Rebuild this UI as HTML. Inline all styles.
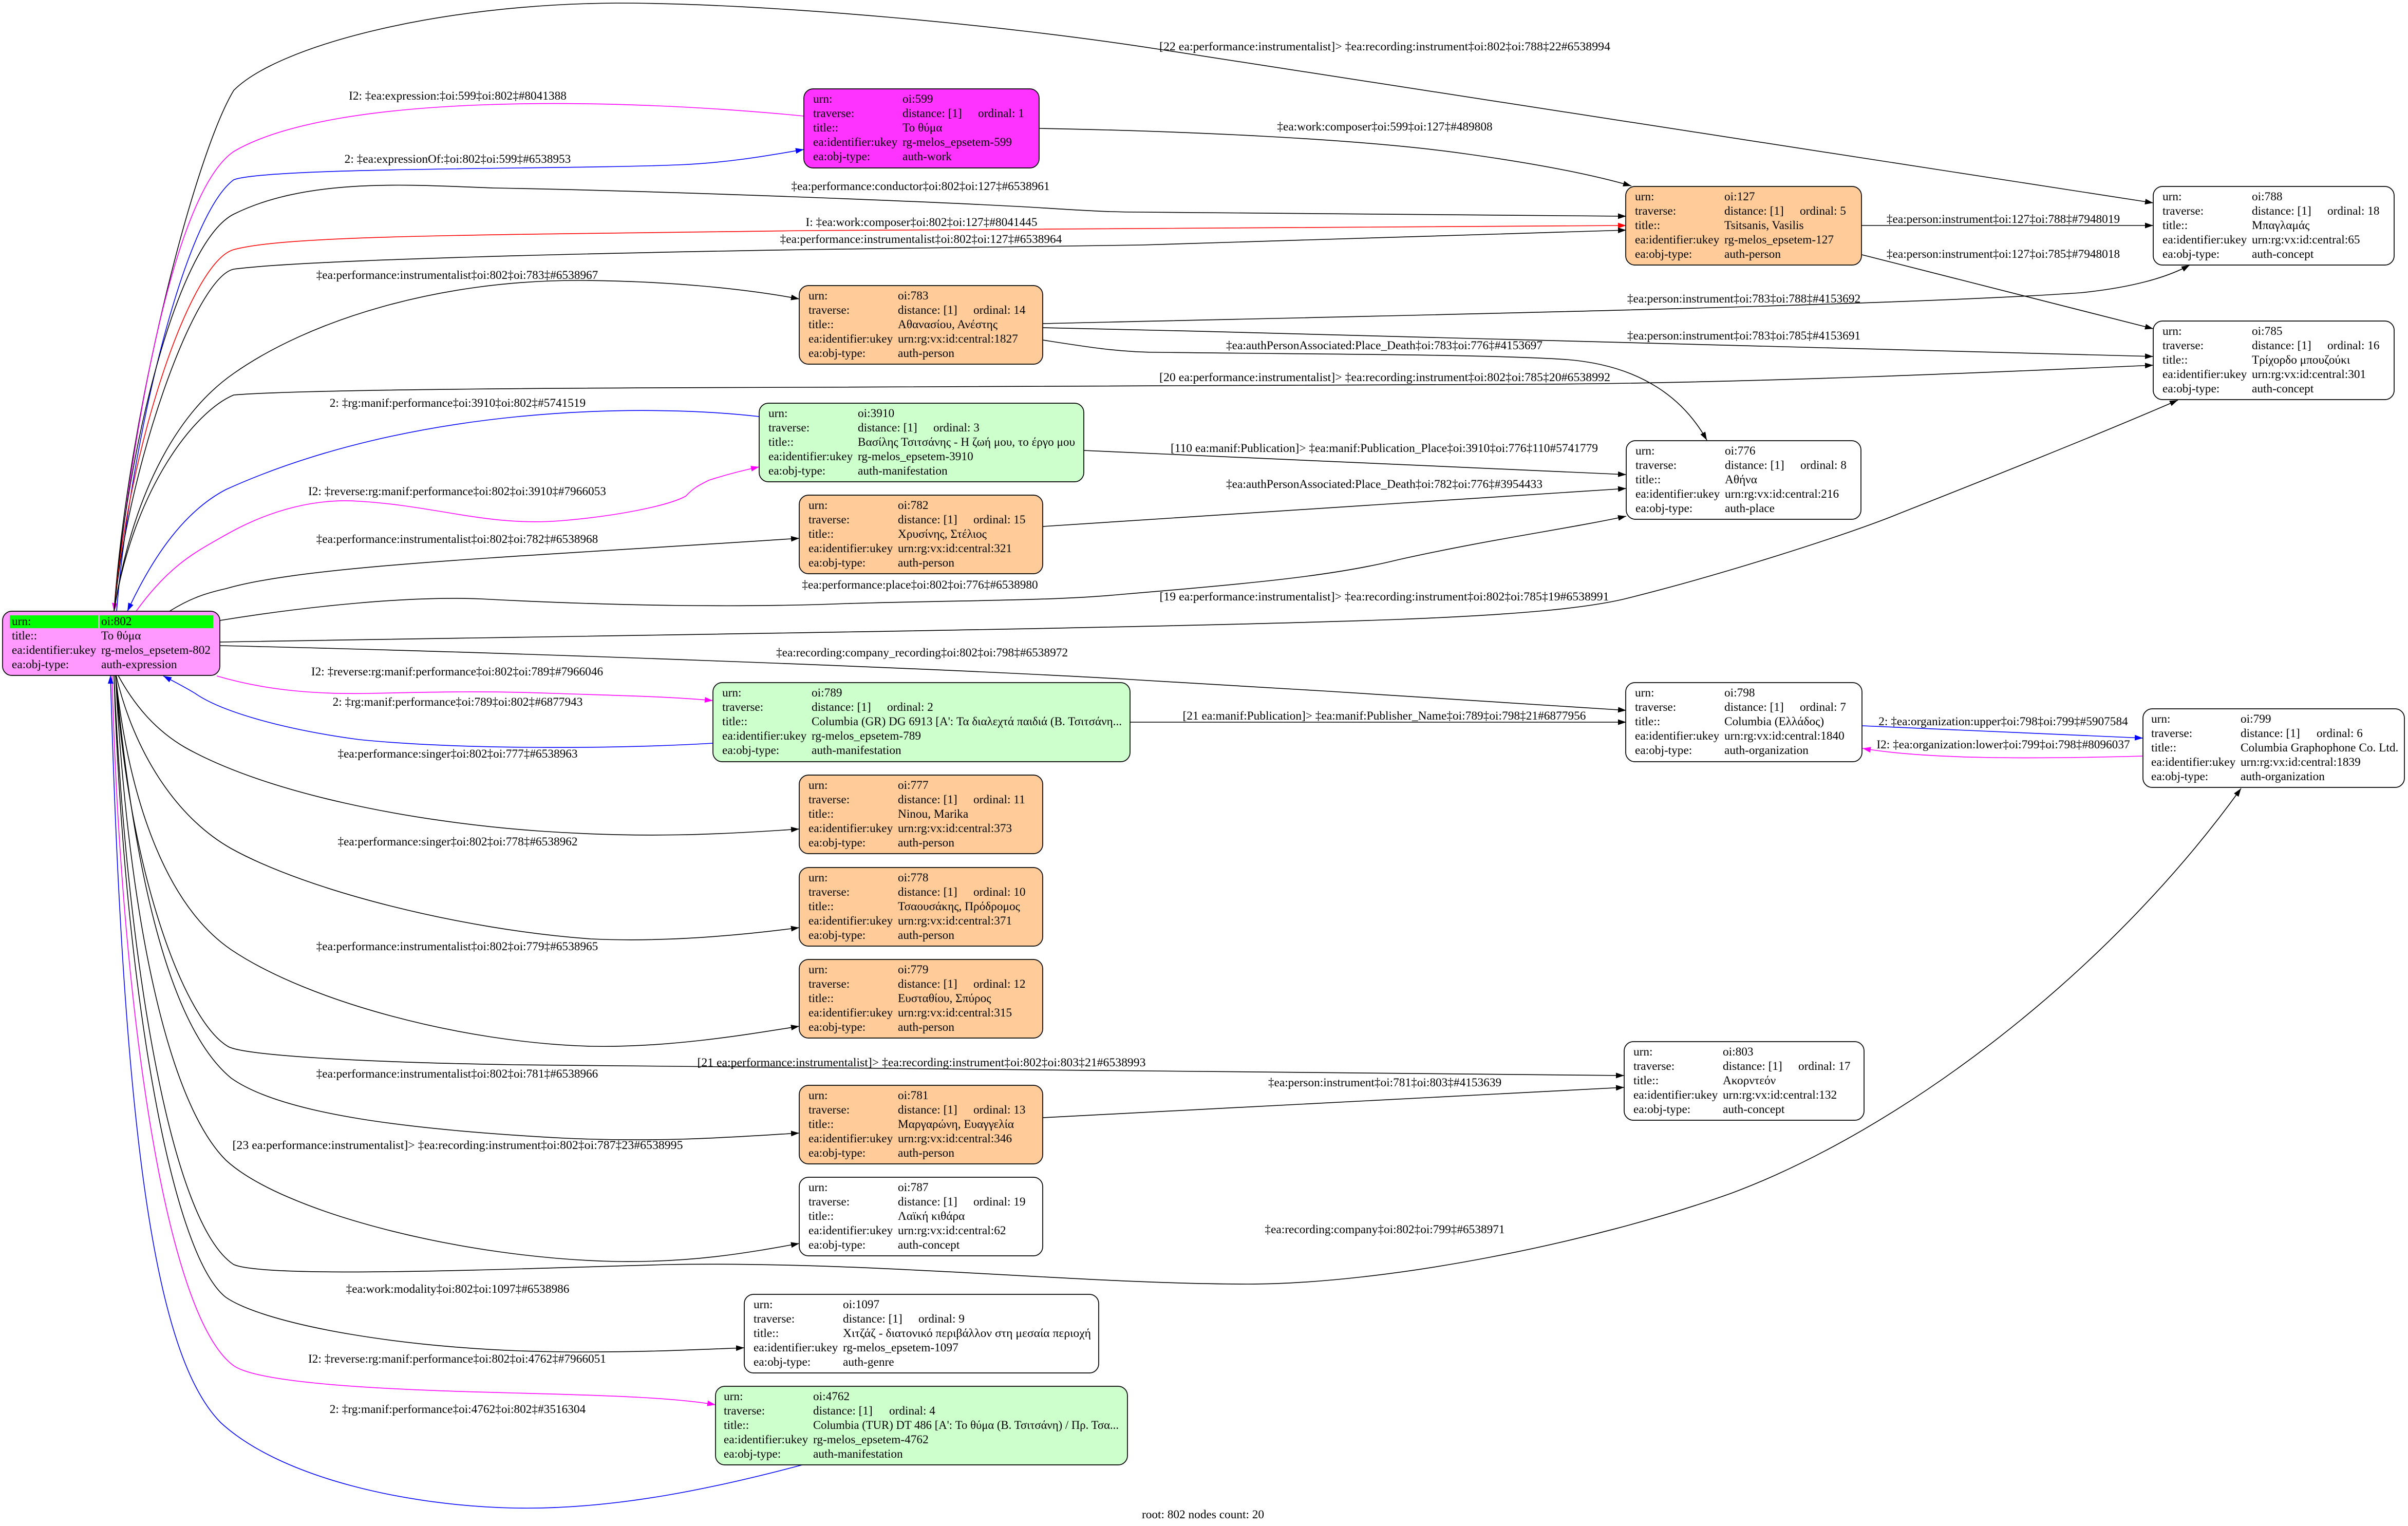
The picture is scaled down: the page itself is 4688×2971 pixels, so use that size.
<!DOCTYPE html>
<html><head><meta charset="utf-8"><title>root: 802</title>
<style>
html,body{margin:0;padding:0;background:#fff;}
svg{display:block;}
text{font-family:"Liberation Serif","DejaVu Serif","Noto Serif CJK SC",serif;font-size:23.3px;fill:#000;}
.l{text-anchor:middle;}
.e{fill:none;stroke-width:1.6;}
.k{stroke:#000;} .r{stroke:#ff0000;} .b{stroke:#0000ff;} .m{stroke:#ff00ff;}
.n{stroke:#000;stroke-width:1.7;}
</style></head>
<body>
<svg width="4688" height="2971" viewBox="0 0 4688 2971" xmlns="http://www.w3.org/2000/svg">
<defs>
<marker id="mk" markerUnits="userSpaceOnUse" markerWidth="18" markerHeight="12" refX="16" refY="6" orient="auto"><path d="M0,0.5 L16,6 L0,11.5 z" fill="#000"/></marker>
<marker id="mr" markerUnits="userSpaceOnUse" markerWidth="18" markerHeight="12" refX="16" refY="6" orient="auto"><path d="M0,0.5 L16,6 L0,11.5 z" fill="#ff0000"/></marker>
<marker id="mb" markerUnits="userSpaceOnUse" markerWidth="18" markerHeight="12" refX="16" refY="6" orient="auto"><path d="M0,0.5 L16,6 L0,11.5 z" fill="#0000ff"/></marker>
<marker id="mm" markerUnits="userSpaceOnUse" markerWidth="18" markerHeight="12" refX="16" refY="6" orient="auto"><path d="M0,0.5 L16,6 L0,11.5 z" fill="#ff00ff"/></marker>
</defs>
<rect x="0" y="0" width="4688" height="2971" fill="#fff"/>

<!-- EDGES -->
<path class="e k" marker-end="url(#mk)" d="M222,1190 C250,800 380,300 455,176 C540,90 850,8 1200,6 C1500,6 1957,49 2257,96 L4192,395"/>
<path class="e m" marker-end="url(#mm)" d="M1565,226 C1200,190 650,180 455,295 C330,380 250,900 222,1190"/>
<path class="e b" marker-end="url(#mb)" d="M227,1190 C255,850 360,420 455,350 C520,325 1100,330 1320,321 C1420,317 1500,302 1565,291"/>
<path class="e k" marker-end="url(#mk)" d="M222,1190 C250,850 350,470 455,417 C600,345 800,360 960,366 C1300,372 1800,392 2000,403 C2100,409 2150,413 2223,413 L3166,421"/>
<path class="e r" marker-end="url(#mr)" d="M222,1190 C250,870 370,510 455,486 C560,458 900,458 1568,449 L3166,439"/>
<path class="e k" marker-end="url(#mk)" d="M222,1190 C250,900 380,540 455,524 C600,505 1200,492 1568,486 C1900,481 2100,478 2223,477 L3166,448"/>
<path class="e k" marker-end="url(#mk)" d="M222,1190 C260,950 350,800 455,727 C600,625 850,545 1130,546 C1300,547 1450,562 1556,582"/>
<path class="e k" marker-end="url(#mk)" d="M222,1190 C260,950 380,800 455,769 C600,757 1200,755 1568,754 L3000,748 C3400,746 3900,724 4192,711"/>
<path class="e b" marker-end="url(#mb)" d="M1478,811 C1250,785 800,790 440,953 C350,1000 290,1100 248,1190"/>
<path class="e m" marker-end="url(#mm)" d="M265,1190 C330,1100 380,1075 440,1041 C530,990 620,970 700,976 C850,985 950,1025 1090,1014 C1200,1005 1300,985 1335,966 C1350,950 1360,945 1380,935 C1420,922 1450,915 1478,909"/>
<path class="e k" marker-end="url(#mk)" d="M330,1190 C370,1165 400,1155 440,1146 C600,1100 1000,1085 1556,1048"/>
<path class="e k" marker-end="url(#mk)" d="M428,1208 C600,1180 800,1160 936,1166 C1200,1180 1450,1183 1650,1175 C1900,1168 2050,1170 2186,1157 C2450,1135 2600,1120 2721,1090 C2900,1050 3050,1030 3166,1005"/>
<path class="e k" marker-end="url(#mk)" d="M428,1250 C1000,1240 2200,1225 2721,1206 C2950,1197 3080,1185 3159,1167 C3350,1120 3600,1040 3697,1000 C3900,920 4100,840 4240,779"/>
<path class="e k" marker-end="url(#mk)" d="M428,1257 C1000,1270 1800,1300 2186,1322 C2500,1340 2900,1365 3166,1383"/>
<path class="e m" marker-end="url(#mm)" d="M422,1316 C520,1345 620,1352 721,1350 C850,1347 950,1345 1079,1350 C1200,1354 1300,1356 1388,1364"/>
<path class="e b" marker-end="url(#mb)" d="M1388,1447 C1200,1458 900,1460 700,1440 C550,1420 430,1385 380,1350 C355,1335 335,1325 318,1316"/>
<path class="e k" marker-end="url(#mk)" d="M2200,1406 L3166,1406"/>
<path class="e k" marker-end="url(#mk)" d="M230,1315 C260,1370 300,1420 360,1455 C520,1545 800,1600 1050,1618 C1250,1632 1400,1625 1556,1614"/>
<path class="e k" marker-end="url(#mk)" d="M226,1315 C260,1460 340,1590 450,1652 C600,1735 900,1810 1150,1828 C1300,1835 1450,1820 1556,1806"/>
<path class="e k" marker-end="url(#mk)" d="M225,1315 C250,1550 320,1760 450,1849 C600,1950 900,2030 1150,2037 C1300,2040 1450,2015 1556,1998"/>
<path class="e k" marker-end="url(#mk)" d="M225,1315 C250,1700 360,1990 445,2038 C480,2055 700,2068 1000,2073 L3162,2094"/>
<path class="e k" marker-end="url(#mk)" d="M225,1315 C260,1700 330,2000 450,2099 C550,2170 800,2200 1100,2216 C1300,2225 1450,2212 1556,2206"/>
<path class="e k" marker-end="url(#mk)" d="M2030,2176 L3162,2117"/>
<path class="e k" marker-end="url(#mk)" d="M225,1315 C250,1800 330,2150 440,2259 C550,2360 900,2450 1200,2456 C1350,2458 1450,2440 1556,2421"/>
<path class="e k" marker-end="url(#mk)" d="M222,1315 C245,1850 330,2380 455,2462 C520,2490 1000,2470 1300,2462 C1700,2455 2100,2500 2429,2500 C2700,2500 3100,2420 3371,2323 C3700,2200 4100,1900 4363,1535"/>
<path class="e k" marker-end="url(#mk)" d="M222,1315 C240,1900 330,2440 440,2526 C520,2580 800,2630 1100,2632 C1250,2633 1350,2628 1449,2624"/>
<path class="e m" marker-end="url(#mm)" d="M218,1315 C235,1950 320,2560 455,2659 C500,2690 700,2705 1000,2712 C1200,2717 1320,2722 1393,2735"/>
<path class="e b" marker-end="url(#mb)" d="M1562,2852 C1400,2895 1200,2940 1000,2936 C800,2932 550,2880 430,2770 C300,2640 240,2200 215,1315"/>
<path class="e k" marker-end="url(#mk)" d="M2024,250 C2300,255 2650,270 2857,300 C3000,320 3100,340 3176,362"/>
<path class="e k" marker-end="url(#mk)" d="M3624,439 L4192,439"/>
<path class="e k" marker-end="url(#mk)" d="M3625,496 L4192,640"/>
<path class="e k" marker-end="url(#mk)" d="M2030,630 C2700,615 3700,595 4050,570 C4150,560 4220,540 4263,516"/>
<path class="e k" marker-end="url(#mk)" d="M2030,638 C2800,655 3600,678 4192,694"/>
<path class="e k" marker-end="url(#mk)" d="M2030,662 C2120,676 2180,686 2257,686 C2600,690 2900,690 3050,700 C3200,712 3280,780 3323,857"/>
<path class="e k" marker-end="url(#mk)" d="M2110,877 L3166,924"/>
<path class="e k" marker-end="url(#mk)" d="M2030,1025 L3166,951"/>
<path class="e b" marker-end="url(#mb)" d="M3625,1413 L4172,1437"/>
<path class="e m" marker-end="url(#mm)" d="M4172,1472 C3950,1478 3750,1478 3626,1457"/>

<!-- EDGE LABELS -->
<text class="l" x="2696" y="98" textLength="878" lengthAdjust="spacingAndGlyphs">[22 ea:performance:instrumentalist]&gt; ‡ea:recording:instrument‡oi:802‡oi:788‡22#6538994</text>
<text class="l" x="891" y="194">I2: ‡ea:expression:‡oi:599‡oi:802‡#8041388</text>
<text class="l" x="891" y="317">2: ‡ea:expressionOf:‡oi:802‡oi:599‡#6538953</text>
<text class="l" x="2696" y="254">‡ea:work:composer‡oi:599‡oi:127‡#489808</text>
<text class="l" x="1792" y="370">‡ea:performance:conductor‡oi:802‡oi:127‡#6538961</text>
<text class="l" x="1794" y="440">I: ‡ea:work:composer‡oi:802‡oi:127‡#8041445</text>
<text class="l" x="1793" y="473">‡ea:performance:instrumentalist‡oi:802‡oi:127‡#6538964</text>
<text class="l" x="890" y="543">‡ea:performance:instrumentalist‡oi:802‡oi:783‡#6538967</text>
<text class="l" x="3900" y="434">‡ea:person:instrument‡oi:127‡oi:788‡#7948019</text>
<text class="l" x="3900" y="502">‡ea:person:instrument‡oi:127‡oi:785‡#7948018</text>
<text class="l" x="3395" y="589">‡ea:person:instrument‡oi:783‡oi:788‡#4153692</text>
<text class="l" x="3395" y="661">‡ea:person:instrument‡oi:783‡oi:785‡#4153691</text>
<text class="l" x="2695" y="680">‡ea:authPersonAssociated:Place_Death‡oi:783‡oi:776‡#4153697</text>
<text class="l" x="2696" y="742" textLength="878" lengthAdjust="spacingAndGlyphs">[20 ea:performance:instrumentalist]&gt; ‡ea:recording:instrument‡oi:802‡oi:785‡20#6538992</text>
<text class="l" x="891" y="792">2: ‡rg:manif:performance‡oi:3910‡oi:802‡#5741519</text>
<text class="l" x="890" y="964">I2: ‡reverse:rg:manif:performance‡oi:802‡oi:3910‡#7966053</text>
<text class="l" x="2695" y="880" textLength="832" lengthAdjust="spacingAndGlyphs">[110 ea:manif:Publication]&gt; ‡ea:manif:Publication_Place‡oi:3910‡oi:776‡110#5741779</text>
<text class="l" x="2695" y="950">‡ea:authPersonAssociated:Place_Death‡oi:782‡oi:776‡#3954433</text>
<text class="l" x="890" y="1057">‡ea:performance:instrumentalist‡oi:802‡oi:782‡#6538968</text>
<text class="l" x="1791" y="1146">‡ea:performance:place‡oi:802‡oi:776‡#6538980</text>
<text class="l" x="2695" y="1169" textLength="875" lengthAdjust="spacingAndGlyphs">[19 ea:performance:instrumentalist]&gt; ‡ea:recording:instrument‡oi:802‡oi:785‡19#6538991</text>
<text class="l" x="1795" y="1278">‡ea:recording:company_recording‡oi:802‡oi:798‡#6538972</text>
<text class="l" x="890" y="1315">I2: ‡reverse:rg:manif:performance‡oi:802‡oi:789‡#7966046</text>
<text class="l" x="891" y="1374">2: ‡rg:manif:performance‡oi:789‡oi:802‡#6877943</text>
<text class="l" x="2695" y="1401" textLength="785" lengthAdjust="spacingAndGlyphs">[21 ea:manif:Publication]&gt; ‡ea:manif:Publisher_Name‡oi:789‡oi:798‡21#6877956</text>
<text class="l" x="3900" y="1412">2: ‡ea:organization:upper‡oi:798‡oi:799‡#5907584</text>
<text class="l" x="3900" y="1457">I2: ‡ea:organization:lower‡oi:799‡oi:798‡#8096037</text>
<text class="l" x="891" y="1475">‡ea:performance:singer‡oi:802‡oi:777‡#6538963</text>
<text class="l" x="891" y="1646">‡ea:performance:singer‡oi:802‡oi:778‡#6538962</text>
<text class="l" x="890" y="1850">‡ea:performance:instrumentalist‡oi:802‡oi:779‡#6538965</text>
<text class="l" x="1794" y="2076" textLength="873" lengthAdjust="spacingAndGlyphs">[21 ea:performance:instrumentalist]&gt; ‡ea:recording:instrument‡oi:802‡oi:803‡21#6538993</text>
<text class="l" x="890" y="2098">‡ea:performance:instrumentalist‡oi:802‡oi:781‡#6538966</text>
<text class="l" x="2696" y="2115">‡ea:person:instrument‡oi:781‡oi:803‡#4153639</text>
<text class="l" x="891" y="2237" textLength="877" lengthAdjust="spacingAndGlyphs">[23 ea:performance:instrumentalist]&gt; ‡ea:recording:instrument‡oi:802‡oi:787‡23#6538995</text>
<text class="l" x="2696" y="2401">‡ea:recording:company‡oi:802‡oi:799‡#6538971</text>
<text class="l" x="891" y="2517">‡ea:work:modality‡oi:802‡oi:1097‡#6538986</text>
<text class="l" x="890" y="2653">I2: ‡reverse:rg:manif:performance‡oi:802‡oi:4762‡#7966051</text>
<text class="l" x="891" y="2751">2: ‡rg:manif:performance‡oi:4762‡oi:802‡#3516304</text>

<!-- ROOT NODE -->
<g transform="translate(5,1190)">
<rect class="n" x="0" y="0" width="423" height="125" rx="18" fill="#ff99ff"/>
<rect x="14" y="8" width="172" height="25" fill="#00ff00"/>
<rect x="189" y="8" width="221" height="25" fill="#00ff00"/>
<text x="18" y="27">urn:</text><text x="192" y="27">oi:802</text>
<text x="18" y="55">title::</text><text x="192" y="55">Το θύμα</text>
<text x="18" y="83">ea:identifier:ukey</text><text x="192" y="83">rg-melos_epsetem-802</text>
<text x="18" y="111">ea:obj-type:</text><text x="192" y="111">auth-expression</text>
</g>

<!-- 599 -->
<g transform="translate(1565,173)">
<rect class="n" x="0" y="0" width="458" height="154" rx="18" fill="#ff33ff"/>
<text x="18" y="27">urn:</text><text x="192" y="27">oi:599</text>
<text x="18" y="55">traverse:</text><text x="192" y="55">distance: [1]</text><text x="339" y="55">ordinal: 1</text>
<text x="18" y="83">title::</text><text x="192" y="83">Το θύμα</text>
<text x="18" y="111">ea:identifier:ukey</text><text x="192" y="111">rg-melos_epsetem-599</text>
<text x="18" y="139">ea:obj-type:</text><text x="192" y="139">auth-work</text>
</g>

<!-- 127 -->
<g transform="translate(3165,363)">
<rect class="n" x="0" y="0" width="459" height="153" rx="18" fill="#ffcc99"/>
<text x="18" y="27">urn:</text><text x="192" y="27">oi:127</text>
<text x="18" y="55">traverse:</text><text x="192" y="55">distance: [1]</text><text x="339" y="55">ordinal: 5</text>
<text x="18" y="83">title::</text><text x="192" y="83">Tsitsanis, Vasilis</text>
<text x="18" y="111">ea:identifier:ukey</text><text x="192" y="111">rg-melos_epsetem-127</text>
<text x="18" y="139">ea:obj-type:</text><text x="192" y="139">auth-person</text>
</g>

<!-- 788 -->
<g transform="translate(4192,363)">
<rect class="n" x="0" y="0" width="469" height="153" rx="18" fill="#ffffff"/>
<text x="18" y="27">urn:</text><text x="192" y="27">oi:788</text>
<text x="18" y="55">traverse:</text><text x="192" y="55">distance: [1]</text><text x="339" y="55">ordinal: 18</text>
<text x="18" y="83">title::</text><text x="192" y="83">Μπαγλαμάς</text>
<text x="18" y="111">ea:identifier:ukey</text><text x="192" y="111">urn:rg:vx:id:central:65</text>
<text x="18" y="139">ea:obj-type:</text><text x="192" y="139">auth-concept</text>
</g>

<!-- 785 -->
<g transform="translate(4192,625)">
<rect class="n" x="0" y="0" width="469" height="153" rx="18" fill="#ffffff"/>
<text x="18" y="27">urn:</text><text x="192" y="27">oi:785</text>
<text x="18" y="55">traverse:</text><text x="192" y="55">distance: [1]</text><text x="339" y="55">ordinal: 16</text>
<text x="18" y="83">title::</text><text x="192" y="83">Τρίχορδο μπουζούκι</text>
<text x="18" y="111">ea:identifier:ukey</text><text x="192" y="111">urn:rg:vx:id:central:301</text>
<text x="18" y="139">ea:obj-type:</text><text x="192" y="139">auth-concept</text>
</g>

<!-- 783 -->
<g transform="translate(1556,556)">
<rect class="n" x="0" y="0" width="474" height="153" rx="18" fill="#ffcc99"/>
<text x="18" y="27">urn:</text><text x="192" y="27">oi:783</text>
<text x="18" y="55">traverse:</text><text x="192" y="55">distance: [1]</text><text x="339" y="55">ordinal: 14</text>
<text x="18" y="83">title::</text><text x="192" y="83">Αθανασίου, Ανέστης</text>
<text x="18" y="111">ea:identifier:ukey</text><text x="192" y="111">urn:rg:vx:id:central:1827</text>
<text x="18" y="139">ea:obj-type:</text><text x="192" y="139">auth-person</text>
</g>

<!-- 3910 -->
<g transform="translate(1478,785)">
<rect class="n" x="0" y="0" width="632" height="153" rx="18" fill="#ccffcc"/>
<text x="18" y="27">urn:</text><text x="192" y="27">oi:3910</text>
<text x="18" y="55">traverse:</text><text x="192" y="55">distance: [1]</text><text x="339" y="55">ordinal: 3</text>
<text x="18" y="83">title::</text><text x="192" y="83" textLength="423" lengthAdjust="spacingAndGlyphs">Βασίλης Τσιτσάνης - Η ζωή μου, το έργο μου</text>
<text x="18" y="111">ea:identifier:ukey</text><text x="192" y="111">rg-melos_epsetem-3910</text>
<text x="18" y="139">ea:obj-type:</text><text x="192" y="139">auth-manifestation</text>
</g>

<!-- 776 -->
<g transform="translate(3166,858)">
<rect class="n" x="0" y="0" width="457" height="153" rx="18" fill="#ffffff"/>
<text x="18" y="27">urn:</text><text x="192" y="27">oi:776</text>
<text x="18" y="55">traverse:</text><text x="192" y="55">distance: [1]</text><text x="339" y="55">ordinal: 8</text>
<text x="18" y="83">title::</text><text x="192" y="83">Αθήνα</text>
<text x="18" y="111">ea:identifier:ukey</text><text x="192" y="111">urn:rg:vx:id:central:216</text>
<text x="18" y="139">ea:obj-type:</text><text x="192" y="139">auth-place</text>
</g>

<!-- 782 -->
<g transform="translate(1556,964)">
<rect class="n" x="0" y="0" width="474" height="153" rx="18" fill="#ffcc99"/>
<text x="18" y="27">urn:</text><text x="192" y="27">oi:782</text>
<text x="18" y="55">traverse:</text><text x="192" y="55">distance: [1]</text><text x="339" y="55">ordinal: 15</text>
<text x="18" y="83">title::</text><text x="192" y="83">Χρυσίνης, Στέλιος</text>
<text x="18" y="111">ea:identifier:ukey</text><text x="192" y="111">urn:rg:vx:id:central:321</text>
<text x="18" y="139">ea:obj-type:</text><text x="192" y="139">auth-person</text>
</g>

<!-- 789 -->
<g transform="translate(1388,1329)">
<rect class="n" x="0" y="0" width="812" height="154" rx="18" fill="#ccffcc"/>
<text x="18" y="27">urn:</text><text x="192" y="27">oi:789</text>
<text x="18" y="55">traverse:</text><text x="192" y="55">distance: [1]</text><text x="339" y="55">ordinal: 2</text>
<text x="18" y="83">title::</text><text x="192" y="83" textLength="604" lengthAdjust="spacingAndGlyphs">Columbia (GR) DG 6913 [A': Τα διαλεχτά παιδιά (Β. Τσιτσάνη...</text>
<text x="18" y="111">ea:identifier:ukey</text><text x="192" y="111">rg-melos_epsetem-789</text>
<text x="18" y="139">ea:obj-type:</text><text x="192" y="139">auth-manifestation</text>
</g>

<!-- 798 -->
<g transform="translate(3165,1329)">
<rect class="n" x="0" y="0" width="460" height="154" rx="18" fill="#ffffff"/>
<text x="18" y="27">urn:</text><text x="192" y="27">oi:798</text>
<text x="18" y="55">traverse:</text><text x="192" y="55">distance: [1]</text><text x="339" y="55">ordinal: 7</text>
<text x="18" y="83">title::</text><text x="192" y="83">Columbia (Ελλάδος)</text>
<text x="18" y="111">ea:identifier:ukey</text><text x="192" y="111">urn:rg:vx:id:central:1840</text>
<text x="18" y="139">ea:obj-type:</text><text x="192" y="139">auth-organization</text>
</g>

<!-- 799 -->
<g transform="translate(4172,1380)">
<rect class="n" x="0" y="0" width="509" height="153" rx="18" fill="#ffffff"/>
<text x="16" y="27">urn:</text><text x="190" y="27">oi:799</text>
<text x="16" y="55">traverse:</text><text x="190" y="55">distance: [1]</text><text x="338" y="55">ordinal: 6</text>
<text x="16" y="83">title::</text><text x="190" y="83">Columbia Graphophone Co. Ltd.</text>
<text x="16" y="111">ea:identifier:ukey</text><text x="190" y="111">urn:rg:vx:id:central:1839</text>
<text x="16" y="139">ea:obj-type:</text><text x="190" y="139">auth-organization</text>
</g>

<!-- 777 -->
<g transform="translate(1556,1509)">
<rect class="n" x="0" y="0" width="474" height="153" rx="18" fill="#ffcc99"/>
<text x="18" y="27">urn:</text><text x="192" y="27">oi:777</text>
<text x="18" y="55">traverse:</text><text x="192" y="55">distance: [1]</text><text x="339" y="55">ordinal: 11</text>
<text x="18" y="83">title::</text><text x="192" y="83">Ninou, Marika</text>
<text x="18" y="111">ea:identifier:ukey</text><text x="192" y="111">urn:rg:vx:id:central:373</text>
<text x="18" y="139">ea:obj-type:</text><text x="192" y="139">auth-person</text>
</g>

<!-- 778 -->
<g transform="translate(1556,1689)">
<rect class="n" x="0" y="0" width="474" height="153" rx="18" fill="#ffcc99"/>
<text x="18" y="27">urn:</text><text x="192" y="27">oi:778</text>
<text x="18" y="55">traverse:</text><text x="192" y="55">distance: [1]</text><text x="339" y="55">ordinal: 10</text>
<text x="18" y="83">title::</text><text x="192" y="83">Τσαουσάκης, Πρόδρομος</text>
<text x="18" y="111">ea:identifier:ukey</text><text x="192" y="111">urn:rg:vx:id:central:371</text>
<text x="18" y="139">ea:obj-type:</text><text x="192" y="139">auth-person</text>
</g>

<!-- 779 -->
<g transform="translate(1556,1868)">
<rect class="n" x="0" y="0" width="474" height="153" rx="18" fill="#ffcc99"/>
<text x="18" y="27">urn:</text><text x="192" y="27">oi:779</text>
<text x="18" y="55">traverse:</text><text x="192" y="55">distance: [1]</text><text x="339" y="55">ordinal: 12</text>
<text x="18" y="83">title::</text><text x="192" y="83">Ευσταθίου, Σπύρος</text>
<text x="18" y="111">ea:identifier:ukey</text><text x="192" y="111">urn:rg:vx:id:central:315</text>
<text x="18" y="139">ea:obj-type:</text><text x="192" y="139">auth-person</text>
</g>

<!-- 803 -->
<g transform="translate(3162,2028)">
<rect class="n" x="0" y="0" width="467" height="153" rx="18" fill="#ffffff"/>
<text x="18" y="27">urn:</text><text x="192" y="27">oi:803</text>
<text x="18" y="55">traverse:</text><text x="192" y="55">distance: [1]</text><text x="339" y="55">ordinal: 17</text>
<text x="18" y="83">title::</text><text x="192" y="83">Ακορντεόν</text>
<text x="18" y="111">ea:identifier:ukey</text><text x="192" y="111">urn:rg:vx:id:central:132</text>
<text x="18" y="139">ea:obj-type:</text><text x="192" y="139">auth-concept</text>
</g>

<!-- 781 -->
<g transform="translate(1556,2113)">
<rect class="n" x="0" y="0" width="474" height="153" rx="18" fill="#ffcc99"/>
<text x="18" y="27">urn:</text><text x="192" y="27">oi:781</text>
<text x="18" y="55">traverse:</text><text x="192" y="55">distance: [1]</text><text x="339" y="55">ordinal: 13</text>
<text x="18" y="83">title::</text><text x="192" y="83">Μαργαρώνη, Ευαγγελία</text>
<text x="18" y="111">ea:identifier:ukey</text><text x="192" y="111">urn:rg:vx:id:central:346</text>
<text x="18" y="139">ea:obj-type:</text><text x="192" y="139">auth-person</text>
</g>

<!-- 787 -->
<g transform="translate(1556,2292)">
<rect class="n" x="0" y="0" width="474" height="153" rx="18" fill="#ffffff"/>
<text x="18" y="27">urn:</text><text x="192" y="27">oi:787</text>
<text x="18" y="55">traverse:</text><text x="192" y="55">distance: [1]</text><text x="339" y="55">ordinal: 19</text>
<text x="18" y="83">title::</text><text x="192" y="83">Λαϊκή κιθάρα</text>
<text x="18" y="111">ea:identifier:ukey</text><text x="192" y="111">urn:rg:vx:id:central:62</text>
<text x="18" y="139">ea:obj-type:</text><text x="192" y="139">auth-concept</text>
</g>

<!-- 1097 -->
<g transform="translate(1449,2520)">
<rect class="n" x="0" y="0" width="690" height="153" rx="18" fill="#ffffff"/>
<text x="18" y="27">urn:</text><text x="192" y="27">oi:1097</text>
<text x="18" y="55">traverse:</text><text x="192" y="55">distance: [1]</text><text x="339" y="55">ordinal: 9</text>
<text x="18" y="83">title::</text><text x="192" y="83" textLength="483" lengthAdjust="spacingAndGlyphs">Χιτζάζ - διατονικό περιβάλλον στη μεσαία περιοχή</text>
<text x="18" y="111">ea:identifier:ukey</text><text x="192" y="111">rg-melos_epsetem-1097</text>
<text x="18" y="139">ea:obj-type:</text><text x="192" y="139">auth-genre</text>
</g>

<!-- 4762 -->
<g transform="translate(1393,2699)">
<rect class="n" x="0" y="0" width="802" height="153" rx="18" fill="#ccffcc"/>
<text x="16" y="27">urn:</text><text x="190" y="27">oi:4762</text>
<text x="16" y="55">traverse:</text><text x="190" y="55">distance: [1]</text><text x="338" y="55">ordinal: 4</text>
<text x="16" y="83">title::</text><text x="190" y="83" textLength="595" lengthAdjust="spacingAndGlyphs">Columbia (TUR) DT 486 [A': Το θύμα (Β. Τσιτσάνη) / Πρ. Τσα...</text>
<text x="16" y="111">ea:identifier:ukey</text><text x="190" y="111">rg-melos_epsetem-4762</text>
<text x="16" y="139">ea:obj-type:</text><text x="190" y="139">auth-manifestation</text>
</g>

<!-- FOOTER -->
<text class="l" x="2342" y="2956">root: 802 nodes count: 20</text>
</svg>
</body></html>
